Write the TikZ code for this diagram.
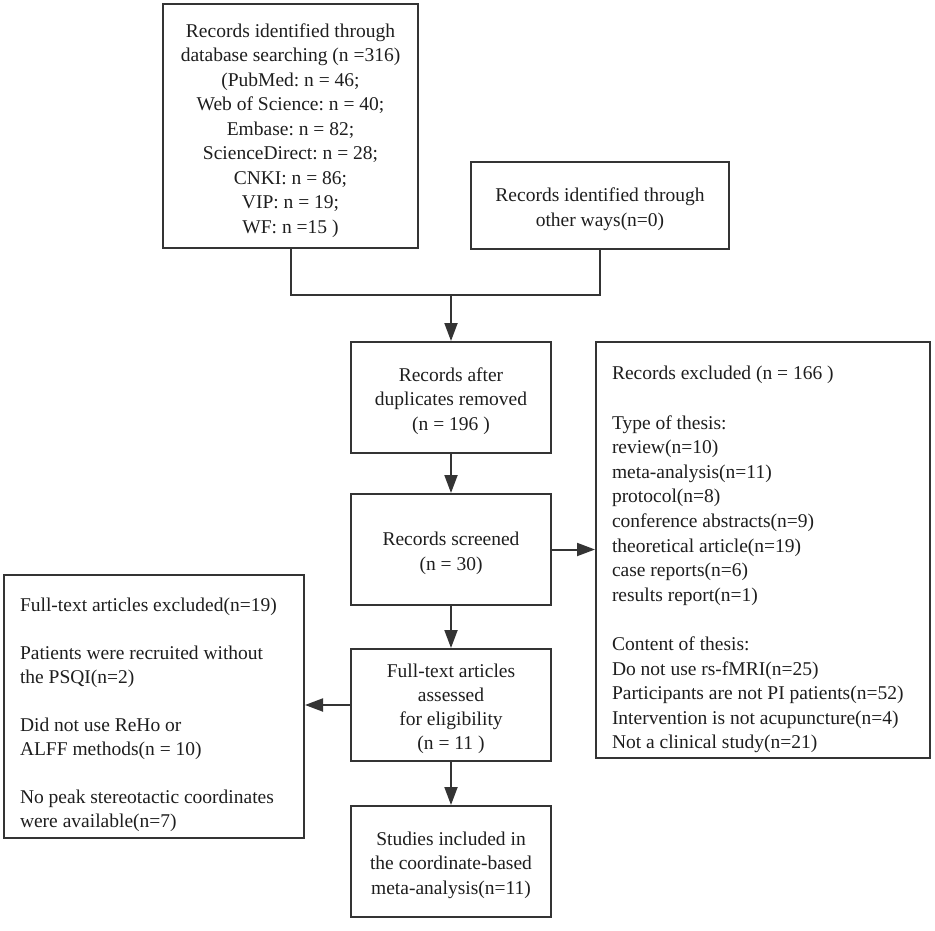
\documentclass[tikz,border=0pt]{standalone}
\usepackage{fontspec}
\setmainfont{Liberation Serif}
\usepackage{tikz}
\usetikzlibrary{arrows.meta, positioning}
\usepackage{xcolor}
\definecolor{linegray}{RGB}{52,52,52}
\definecolor{textgray}{RGB}{30,30,30}
\tikzset{flowbox/.style={rectangle, draw=linegray, line width=2pt, text=textgray, inner sep=0pt, align=flush center, font=\fontsize{19.5}{24.3}\selectfont\frenchspacing},
flowarrow/.style={draw=linegray, line width=2pt, -{Triangle[length=18pt, width=13pt]}},
topstrut/.style={execute at begin node={\rule{0pt}{#1}}}}

\begin{document}
\begin{tikzpicture}[
        line join=miter,
        centerbox/.style={flowbox, topstrut=21pt, text width=196pt, minimum width=200pt, minimum height=111pt},
        listbox/.style={flowbox, align=flush left, inner xsep=16pt}
    ]
        \useasboundingbox (0pt, 0pt) rectangle (935pt, -931pt);
        % Identification
        \node[flowbox, topstrut=23pt, text width=251pt, font=\fontsize{19.5}{24.5}\selectfont\frenchspacing, minimum width=255pt, minimum height=244pt] (search) at (290.5pt, -126pt) {Records identified through\\database searching (n =316)\\(PubMed: n = 46;\\Web of Science: n = 40;\\Embase: n = 82;\\ScienceDirect: n = 28;\\CNKI: n = 86;\\VIP: n = 19;\\WF: n =15 )};
        \node[flowbox, topstrut=21pt, text width=254pt, minimum width=258pt, minimum height=87pt] (other) at (600pt, -205.5pt) {Records identified through\\other ways(n=0)};
        \coordinate (join) at (451pt, -295pt);
        % Main column
        \node[centerbox] (dup) at (451pt, -397.5pt) {Records after\\duplicates removed\\(n = 196 )};
        \node[centerbox] (screen) at (451pt, -549.5pt) {Records screened\\(n = 30)};
        \node[centerbox, minimum height=112pt, font=\fontsize{19.5}{24}\selectfont\frenchspacing] (assess) at (451pt, -705pt) {Full-text articles\\assessed\\for eligibility\\(n = 11 )};
        \node[centerbox] (incl) at (451pt, -861.5pt) {Studies included in\\the coordinate-based\\meta-analysis(n=11)};
        % Exclusions
        \node[listbox, topstrut=33pt, font=\fontsize{19.5}{24.6}\selectfont\frenchspacing, text width=302pt, minimum height=416pt] (recexcl) at (763pt, -550pt) {Records excluded (n = 166 )\\[24.6pt]Type of thesis:\\review(n=10)\\meta-analysis(n=11)\\protocol(n=8)\\conference abstracts(n=9)\\theoretical article(n=19)\\case reports(n=6)\\results report(n=1)\\[24.6pt]Content of thesis:\\Do not use rs-fMRI(n=25)\\Participants are not PI patients(n=52)\\Intervention is not acupuncture(n=4)\\Not a clinical study(n=21)};
        \node[listbox, topstrut=30.5pt, font=\fontsize{19.5}{24}\selectfont\frenchspacing, text width=268pt, minimum height=263pt] (ftexcl) at (154pt, -706.5pt) {Full-text articles excluded(n=19)\\[24pt]Patients were recruited without\\the PSQI(n=2)\\[24pt]Did not use ReHo or\\ALFF methods(n = 10)\\[24pt]No peak stereotactic coordinates\\were available(n=7)};
        % Connectors
        \draw[draw=linegray, line width=2pt] (search.south) |- (join) -| (other.south);
        \draw[flowarrow] (join) -- (dup.north);
        \draw[flowarrow] (dup) -- (screen);
        \draw[flowarrow] (screen) -- (assess);
        \draw[flowarrow] (assess) -- (incl);
        \draw[flowarrow] (screen.east) -- (screen.east -| recexcl.west);
        \draw[flowarrow] (assess.west) -- (assess.west -| ftexcl.east);
    \end{tikzpicture}
\end{document}
